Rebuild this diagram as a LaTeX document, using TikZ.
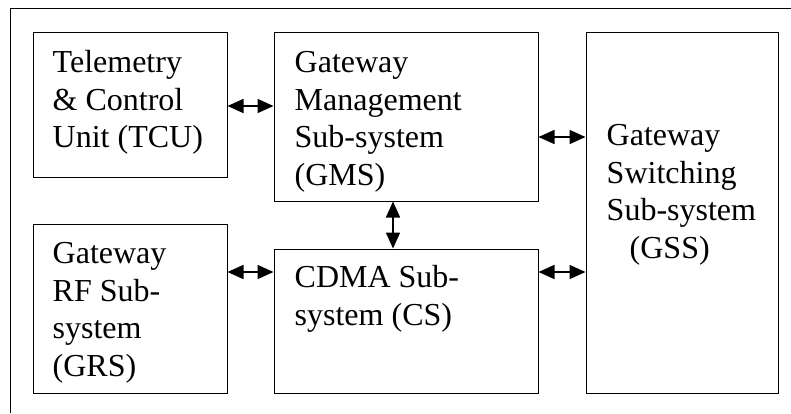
\documentclass[tikz,border=0pt]{standalone}
\usepackage{fontspec}
\setmainfont{Liberation Serif}
\usetikzlibrary{arrows.meta,calc}
\begin{document}
\begin{tikzpicture}[x=1pt,y=-1pt,
  blk/.style={draw, line width=1pt, inner sep=0pt},
  % base west of a multi-line text is the baseline of its last line
  txt/.style={anchor=base west, inner sep=0pt, align=left,
              font=\fontsize{32}{37.5}\selectfont},
  link/.style={line width=1.6pt,
               {Triangle[length=16pt,width=14pt]}-{Triangle[length=16pt,width=14pt]}}]
  \useasboundingbox (0,0) rectangle (791,413);

  % outer frame (runs past the right and bottom edges)
  \draw[line width=1pt] (10,413) -- (10,8.5) -- (791,8.5);

  % blocks
  \node[blk, minimum width=194pt, minimum height=145pt] (tcu) at (130,104.5) {};
  \node[blk, minimum width=264pt, minimum height=169pt] (gms) at (406,116.5) {};
  \node[blk, minimum width=192pt, minimum height=361pt] (gss) at (682,212.5) {};
  \node[blk, minimum width=194pt, minimum height=169pt] (grs) at (130,308.5) {};
  \node[blk, minimum width=264pt, minimum height=144pt] (cs)  at (406,321) {};

  % block texts
  \node[txt] (tcut) at ($(tcu.north west)+(20,116)$) {Telemetry\\\& Control\\Unit (TCU)};
  \node[txt] (gmst) at ($(gms.north west)+(21,153.5)$) {Gateway\\Management\\Sub-system\\(GMS)};
  \node[txt] (gsst) at ($(gss.north west)+(21,226.5)$) {Gateway\\Switching\\Sub-system\\\hspace*{23pt}(GSS)};
  \node[txt] (grst) at ($(grs.north west)+(20,152.5)$) {Gateway\\RF Sub-\\system\\(GRS)};
  \node[txt] (cst)  at ($(cs.north west)+(21,76.5)$) {CDMA Sub-\\system (CS)};

  % link end points
  \coordinate (l1) at ($(tcu.east)+(0,1.5)$);
  \coordinate (l2) at ($(gms.east)+(0,20.5)$);
  \coordinate (l3) at ($(gms.south)+(-13,0)$);
  \coordinate (l4) at ($(grs.east)+(0,-36.5)$);
  \coordinate (l5) at ($(cs.east)+(0,-49)$);

  % links
  \draw[link] (l1) -- (l1 -| gms.west);
  \draw[link] (l2) -- (l2 -| gss.west);
  \draw[link] (l3) -- (l3 |- cs.north);
  \draw[link] (l4) -- (l4 -| cs.west);
  \draw[link] (l5) -- (l5 -| gss.west);
\end{tikzpicture}
\end{document}
